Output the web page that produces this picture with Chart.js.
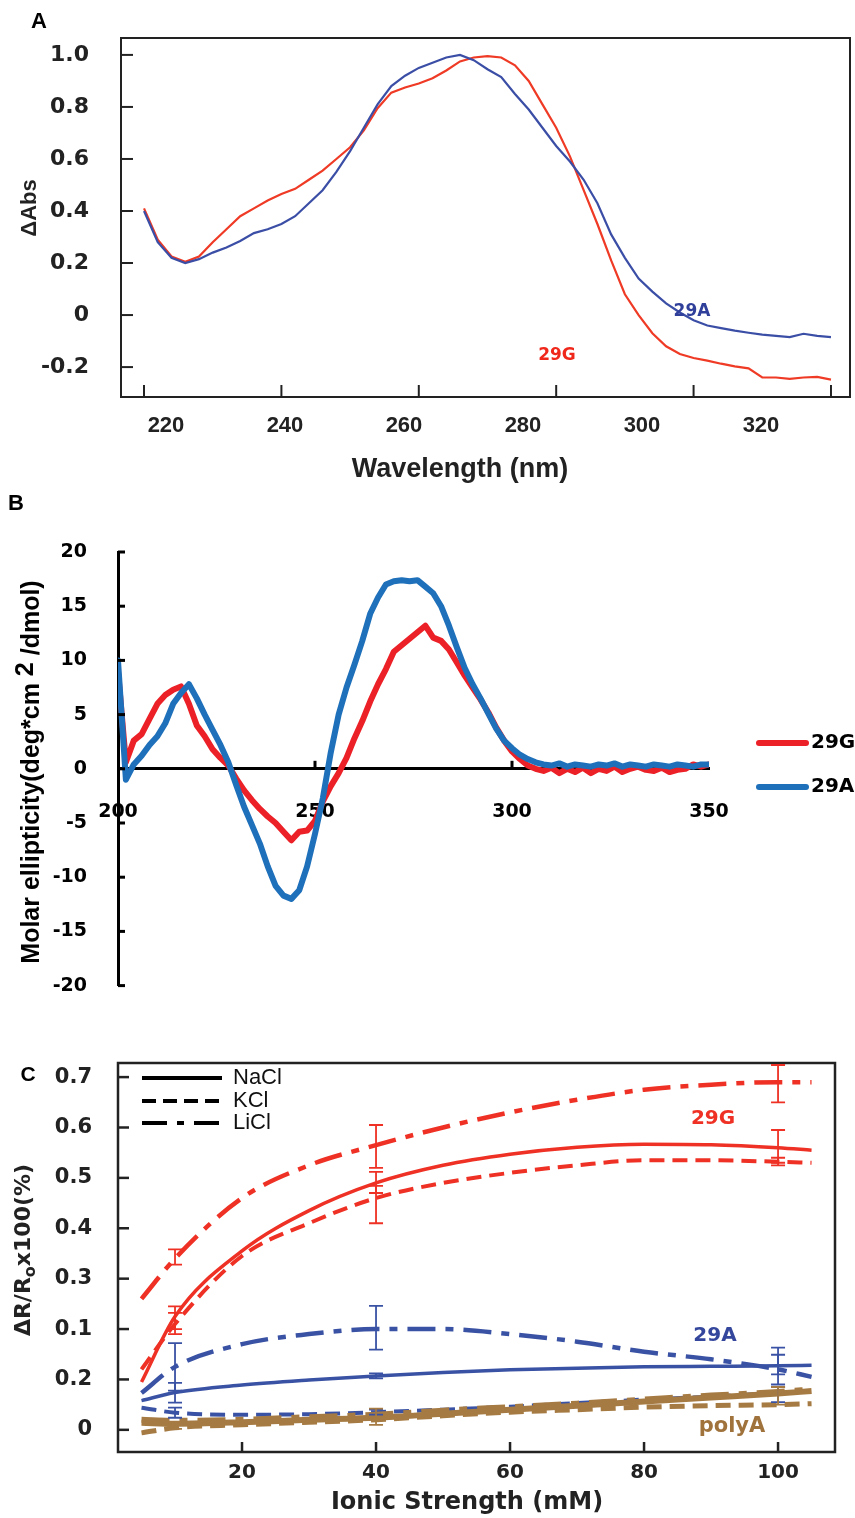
<!DOCTYPE html>
<html>
<head>
<meta charset="utf-8">
<script src="https://cdn.jsdelivr.net/npm/chart.js@4.4.1/dist/chart.umd.min.js"></script>
<style>
  html, body { margin: 0; padding: 0; background: #fff; }
  #page { position: relative; width: 855px; height: 1518px; }
  canvas { position: absolute; left: 0; }
</style>
</head>
<body>
<div id="page">
  <canvas id="chartA" width="855" height="490" style="top:0"></canvas>
  <canvas id="chartB" width="855" height="530" style="top:490px"></canvas>
  <canvas id="chartC" width="855" height="498" style="top:1020px"></canvas>
</div>
<script>
// ---------- panel A : difference absorbance ----------
const absNm = [220, 222, 224, 226, 228, 230, 232, 234, 236, 238, 240, 242, 244, 246, 248, 250, 252, 254, 256, 258,
  260, 262, 264, 266, 268, 270, 272, 274, 276, 278, 280, 282, 284, 286, 288, 290, 292, 294, 296, 298,
  300, 302, 304, 306, 308, 310, 312, 314, 316, 318, 320];
const abs29G = [0.41, 0.29, 0.225, 0.205, 0.225, 0.28, 0.33, 0.38, 0.41, 0.44, 0.465, 0.485, 0.52, 0.555, 0.60, 0.645, 0.71, 0.795, 0.855, 0.875,
  0.89, 0.91, 0.94, 0.975, 0.99, 0.995, 0.99, 0.96, 0.90, 0.81, 0.72, 0.61, 0.48, 0.35, 0.21, 0.08, 0.0, -0.07, -0.12, -0.15,
  -0.165, -0.175, -0.187, -0.197, -0.205, -0.24, -0.24, -0.245, -0.24, -0.238, -0.248];
const abs29A = [0.40, 0.28, 0.22, 0.2, 0.215, 0.24, 0.26, 0.285, 0.315, 0.33, 0.35, 0.38, 0.43, 0.48, 0.55, 0.63, 0.72, 0.81, 0.88, 0.92,
  0.95, 0.97, 0.99, 1.0, 0.98, 0.945, 0.915, 0.85, 0.79, 0.72, 0.65, 0.59, 0.52, 0.43, 0.31, 0.22, 0.14, 0.09, 0.045, 0.01,
  -0.02, -0.04, -0.05, -0.06, -0.068, -0.075, -0.08, -0.085, -0.072, -0.08, -0.085];
const absTicks = [220, 240, 260, 280, 300, 320];
const absYTicks = [-0.2, 0, 0.2, 0.4, 0.6, 0.8, 1.0];

// ---------- panel B : circular dichroism ----------
const cdNm = [200, 202, 204, 206, 208, 210, 212, 214, 216, 218, 220, 222, 224, 226, 228, 230, 232, 234, 236, 238,
  240, 242, 244, 246, 248, 250, 252, 254, 256, 258, 260, 262, 264, 266, 268, 270, 272, 274, 276, 278,
  280, 282, 284, 286, 288, 290, 292, 294, 296, 298, 300, 302, 304, 306, 308, 310, 312, 314, 316, 318,
  320, 322, 324, 326, 328, 330, 332, 334, 336, 338, 340, 342, 344, 346, 348, 350];
const cd29G = [9.0, 0.6, 2.6, 3.2, 4.6, 6.0, 6.8, 7.3, 7.6, 6.0, 4.0, 3.0, 1.8, 1.0, 0.3, -0.9, -2.0, -2.9, -3.7, -4.4,
  -5.0, -5.8, -6.6, -5.8, -5.7, -4.8, -3.0, -1.6, -0.4, 1.0, 2.8, 4.4, 6.2, 7.8, 9.2, 10.8, 11.4, 12.0, 12.6, 13.2,
  12.1, 11.8, 11.0, 9.8, 8.6, 7.5, 6.4, 5.2, 3.8, 2.6, 1.6, 0.9, 0.3, 0.0, -0.2, 0.1, -0.4, 0.0, -0.3, 0.1,
  -0.4, 0.0, -0.2, 0.2, -0.3, 0.0, 0.2, -0.1, -0.2, 0.1, -0.3, -0.1, 0.0, 0.4, 0.2, 0.4];
const cd29A = [10.0, -1.0, 0.4, 1.2, 2.2, 3.0, 4.2, 6.0, 7.0, 7.8, 6.5, 5.0, 3.6, 2.2, 0.6, -1.5, -3.5, -5.2, -6.9, -9.0,
  -10.8, -11.7, -12.0, -11.2, -9.0, -6.0, -2.7, 1.5, 5.0, 7.5, 9.6, 11.8, 14.3, 15.8, 17.0, 17.3, 17.4, 17.3, 17.4, 16.8,
  16.2, 15.0, 13.2, 11.2, 9.3, 7.8, 6.5, 5.1, 3.7, 2.6, 1.9, 1.3, 0.9, 0.6, 0.4, 0.3, 0.5, 0.2, 0.4, 0.3,
  0.2, 0.4, 0.3, 0.5, 0.2, 0.4, 0.3, 0.2, 0.4, 0.3, 0.2, 0.4, 0.3, 0.2, 0.4, 0.4];

// ---------- panel C : resistance change vs ionic strength ----------
const ionic = [5, 10, 20, 30, 40, 50, 60, 70, 80, 90, 100, 105];
const g29NaCl = [0.095, 0.225, 0.355, 0.435, 0.49, 0.525, 0.547, 0.561, 0.567, 0.566, 0.56, 0.555];
const g29KCl = [0.12, 0.21, 0.345, 0.41, 0.46, 0.49, 0.51, 0.525, 0.535, 0.535, 0.532, 0.53];
const g29LiCl = [0.26, 0.34, 0.46, 0.525, 0.565, 0.60, 0.63, 0.655, 0.675, 0.685, 0.69, 0.69];
const a29NaCl = [0.058, 0.074, 0.089, 0.099, 0.107, 0.114, 0.119, 0.122, 0.125, 0.126, 0.127, 0.128];
const a29KCl = [0.044, 0.034, 0.03, 0.031, 0.035, 0.04, 0.046, 0.053, 0.06, 0.066, 0.073, null];
const a29LiCl = [0.073, 0.125, 0.17, 0.19, 0.2, 0.2, 0.19, 0.175, 0.155, 0.14, 0.12, 0.105];
const polyNaCl = [0.014, 0.012, 0.015, 0.02, 0.024, 0.032, 0.04, 0.048, 0.056, 0.064, 0.072, 0.077];
const polyKCl = [-0.006, 0.004, 0.01, 0.015, 0.02, 0.028, 0.035, 0.04, 0.045, 0.048, 0.05, 0.052];
const polyLiCl = [0.02, 0.018, 0.02, 0.025, 0.03, 0.038, 0.045, 0.052, 0.06, 0.068, 0.075, 0.08];
const errIonic = [10, 40, 100];
const errG29NaCl = [[0.19, 0.245], [0.47, 0.512], [0.53, 0.595]];
const errG29KCl = [[0.2, 0.232], [0.41, 0.484], [0.525, 0.54]];
const errG29LiCl = [[0.328, 0.358], [0.52, 0.605], [0.65, 0.724]];
const errA29NaCl = [[0.054, 0.093], [0.102, 0.112], [0.11, 0.149]];
const errA29KCl = [[0.024, 0.044], [0.03, 0.04], [0.055, 0.085]];
const errA29LiCl = [[0.078, 0.172], [0.159, 0.246], [0.09, 0.163]];
const errPolyA = [[0.002, 0.015], [0.01, 0.042], [0.05, 0.085]];
const ionicTicks = [20, 40, 60, 80, 100];
const ratioTicks = [0, 0.1, 0.2, 0.3, 0.4, 0.5, 0.6, 0.7];
const ratioTickText = ['0', '0.2', '0.1', '0.3', '0.4', '0.5', '0.6', '0.7'];

const RED_A = '#ef3a25', BLUE_A = '#3b4ea6';
const RED_B = '#ec2027', BLUE_B = '#1f70ba';
const RED_C = '#ee3124', BLUE_C = '#3a52a4', BROWN_C = '#a67b43';
const DV = '"DejaVu Sans", sans-serif';
const LS = '"Liberation Sans", Arial, sans-serif';

const points = (xs, ys) => xs.map((x, i) => ({ x, y: ys[i] }));

// box, inward tick marks
const framePlugin = {
  id: 'frame',
  afterDatasetsDraw(chart, args, opts) {
    const { ctx, chartArea: a, scales } = chart;
    ctx.save();
    ctx.strokeStyle = opts.color || '#000';
    ctx.lineWidth = opts.width || 2;
    if (opts.box) ctx.strokeRect(a.left, a.top, a.right - a.left, a.bottom - a.top);
    (opts.ticks || []).forEach(t => {
      const s = scales[t.axis];
      ctx.lineWidth = t.width || opts.width || 2;
      t.values.forEach(v => {
        const p = s.getPixelForValue(v);
        ctx.beginPath();
        if (t.side === 'left') {
          ctx.moveTo(a.left, p); ctx.lineTo(a.left + t.len, p);
        } else {
          const y0 = t.side === 'zero' ? scales.y.getPixelForValue(0) : a.bottom;
          ctx.moveTo(p, y0); ctx.lineTo(p, y0 - t.len);
        }
        ctx.stroke();
      });
    });
    ctx.restore();
  }
};

// error bars drawn on the chart's own scales
const errorBarPlugin = {
  id: 'errorBars',
  afterDatasetsDraw(chart, args, opts) {
    const { ctx, scales: { x, y } } = chart;
    ctx.save();
    (opts.sets || []).forEach(set => {
      ctx.strokeStyle = set.color;
      ctx.lineWidth = 1.8;
      set.bars.forEach((b, i) => {
        const px = x.getPixelForValue(set.xs[i]);
        const lo = y.getPixelForValue(b[0]), hi = y.getPixelForValue(b[1]);
        ctx.beginPath();
        ctx.moveTo(px, lo); ctx.lineTo(px, hi);
        ctx.moveTo(px - 7, lo); ctx.lineTo(px + 7, lo);
        ctx.moveTo(px - 7, hi); ctx.lineTo(px + 7, hi);
        ctx.stroke();
      });
    });
    ctx.restore();
  }
};

// free text and legend keys
const textPlugin = {
  id: 'texts',
  afterDraw(chart, args, opts) {
    const ctx = chart.ctx;
    (opts.lines || []).forEach(l => {
      ctx.save();
      ctx.strokeStyle = l.color || '#000';
      ctx.lineWidth = l.width || 3;
      ctx.lineCap = l.cap || 'butt';
      ctx.setLineDash(l.dash || []);
      ctx.beginPath();
      ctx.moveTo(l.x1, l.y); ctx.lineTo(l.x2, l.y);
      ctx.stroke();
      ctx.restore();
    });
    (opts.items || []).forEach(item => {
      ctx.save();
      ctx.translate(item.x, item.y);
      if (item.rot) ctx.rotate(item.rot);
      ctx.fillStyle = item.color || '#000';
      ctx.textBaseline = 'middle';
      ctx.textAlign = 'left';
      const parts = item.parts || [{ text: item.text }];
      let total = 0;
      const widths = parts.map(p => {
        ctx.font = p.font || item.font;
        const w = ctx.measureText(p.text).width;
        total += w;
        return w;
      });
      let x = item.align === 'left' ? 0 : item.align === 'right' ? -total : -total / 2;
      parts.forEach((p, i) => {
        ctx.font = p.font || item.font;
        ctx.fillText(p.text, x, p.dy || 0);
        x += widths[i];
      });
      ctx.restore();
    });
  }
};

Chart.defaults.animation = false;
Chart.defaults.plugins.legend.display = false;
Chart.defaults.plugins.tooltip.enabled = false;
Chart.defaults.elements.point.radius = 0;

// ----- A -----
new Chart(document.getElementById('chartA'), {
  type: 'line',
  data: {
    datasets: [
      { data: points(absNm, abs29A), borderColor: BLUE_A, borderWidth: 2.2 },
      { data: points(absNm, abs29G), borderColor: RED_A, borderWidth: 2.2 }
    ]
  },
  options: {
    responsive: false,
    layout: { padding: { left: 0, right: 5, top: 38, bottom: 0 } },
    scales: {
      x: { type: 'linear', display: false, min: 216.65, max: 322.77 },
      xLab: {
        type: 'linear', position: 'bottom', min: 212.44, max: 334.96,
        afterBuildTicks: s => { s.ticks = absTicks.map(v => ({ value: v })); },
        grid: { display: false }, border: { display: false },
        ticks: { font: { family: LS, size: 22, weight: 'bold' }, color: '#222', padding: 8 },
        afterFit: s => { s.height = 93; }
      },
      y: {
        min: -0.315, max: 1.065,
        afterBuildTicks: s => { s.ticks = absYTicks.map(v => ({ value: v })); },
        grid: { display: false }, border: { display: false },
        ticks: { font: { family: DV, size: 22, weight: 'bold' }, color: '#222', padding: 24,
          callback: v => (Math.abs(v) < 1e-9 ? '0' : v.toFixed(1)) },
        afterFit: s => { s.width = 121; }
      }
    },
    plugins: {
      frame: { box: true, width: 2, color: '#222', ticks: [
        { axis: 'x', values: absTicks, len: 12, side: 'bottom' },
        { axis: 'y', values: absYTicks, len: 12, side: 'left' }
      ] },
      texts: { items: [
        { text: 'A', x: 39, y: 22, font: 'bold 22px ' + LS },
        { text: 'ΔAbs', x: 30, y: 208, rot: -Math.PI / 2, font: 'bold 22px ' + LS, color: '#222' },
        { text: 'Wavelength (nm)', x: 460, y: 470, font: 'bold 27px ' + LS, color: '#222' },
        { text: '29A', x: 692, y: 312, font: 'bold 17px ' + DV, color: '#2f3f9a' },
        { text: '29G', x: 557, y: 356, font: 'bold 17px ' + DV, color: '#f0281c' }
      ] }
    }
  },
  plugins: [framePlugin, textPlugin]
});

// ----- B -----
new Chart(document.getElementById('chartB'), {
  type: 'line',
  data: {
    datasets: [
      { data: points(cdNm, cd29A), borderColor: BLUE_B, borderWidth: 6, borderJoinStyle: 'round', borderCapStyle: 'round' },
      { data: points(cdNm, cd29G), borderColor: RED_B, borderWidth: 6, borderJoinStyle: 'round', borderCapStyle: 'round' }
    ]
  },
  options: {
    responsive: false,
    layout: { padding: { left: 0, right: 146, top: 62, bottom: 20 } },
    scales: {
      x: {
        type: 'linear', min: 200, max: 350, position: { y: 0 },
        ticks: { stepSize: 50, padding: 24, font: { family: DV, size: 19, weight: 'bold' }, color: '#000' },
        grid: { display: false }, border: { color: '#000', width: 3 }
      },
      y: {
        min: -20, max: 20,
        ticks: { stepSize: 5, padding: 23, font: { family: DV, size: 19, weight: 'bold' }, color: '#000' },
        grid: { display: false }, border: { color: '#000', width: 3 },
        afterFit: s => { s.width = 118; }
      }
    },
    plugins: {
      frame: { box: false, width: 3, color: '#000', ticks: [
        { axis: 'x', values: [250, 300], len: 8, side: 'zero' },
        { axis: 'y', values: [-20, -15, -10, -5, 0, 5, 10, 15, 20], len: 7, side: 'left' }
      ] },
      texts: {
        lines: [
          { x1: 759, x2: 806, y: 253, color: RED_B, width: 6, cap: 'round' },
          { x1: 759, x2: 806, y: 297, color: BLUE_B, width: 6, cap: 'round' }
        ],
        items: [
          { text: 'B', x: 16, y: 14, font: 'bold 22px ' + LS },
          { x: 32, y: 282, rot: -Math.PI / 2, font: 'bold 25px ' + LS, parts: [
            { text: 'Molar ellipticity(deg*cm ' }, { text: '2', dy: -6 }, { text: ' /dmol)' }
          ] },
          { text: '29G', x: 811, y: 253, align: 'left', font: 'bold 20px ' + DV },
          { text: '29A', x: 811, y: 297, align: 'left', font: 'bold 20px ' + DV }
        ]
      }
    }
  },
  plugins: [framePlugin, textPlugin]
});

// ----- C -----
const solid = [], dashed = [15, 8], dashDot = [28, 10, 8, 10];
const curve = (ys, color, width, dash) => ({
  data: points(ionic, ys), borderColor: color, borderWidth: width, borderDash: dash,
  cubicInterpolationMode: 'monotone', spanGaps: false
});
new Chart(document.getElementById('chartC'), {
  type: 'line',
  data: {
    datasets: [
      curve(polyNaCl, BROWN_C, 6, solid),
      curve(polyLiCl, BROWN_C, 6, dashDot),
      curve(polyKCl, BROWN_C, 5, dashed),
      curve(a29NaCl, BLUE_C, 3.5, solid),
      curve(a29KCl, BLUE_C, 4, dashed),
      curve(a29LiCl, BLUE_C, 4.5, dashDot),
      curve(g29NaCl, RED_C, 3.5, solid),
      curve(g29KCl, RED_C, 4, dashed),
      curve(g29LiCl, RED_C, 4.5, dashDot)
    ]
  },
  options: {
    responsive: false,
    layout: { padding: { left: 0, right: 20, top: 43, bottom: 0 } },
    scales: {
      x: {
        type: 'linear', min: 1.49, max: 108.5,
        afterBuildTicks: s => { s.ticks = ionicTicks.map(v => ({ value: v })); },
        grid: { display: false }, border: { display: false },
        ticks: { font: { family: DV, size: 20, weight: 'bold' }, color: '#222', padding: 1 },
        afterFit: s => { s.height = 66; }
      },
      y: {
        min: -0.044, max: 0.728,
        afterBuildTicks: s => { s.ticks = ratioTicks.map(v => ({ value: v })); },
        grid: { display: false }, border: { display: false },
        ticks: { font: { family: DV, size: 21, weight: 'bold' }, color: '#222', padding: 18,
          callback: (v, i) => ratioTickText[i] },
        afterFit: s => { s.width = 118; }
      }
    },
    plugins: {
      errorBars: { sets: [
        { xs: errIonic, bars: errG29NaCl, color: RED_C },
        { xs: errIonic, bars: errG29KCl, color: RED_C },
        { xs: errIonic, bars: errG29LiCl, color: RED_C },
        { xs: errIonic, bars: errA29NaCl, color: BLUE_C },
        { xs: errIonic, bars: errA29KCl, color: BLUE_C },
        { xs: errIonic, bars: errA29LiCl, color: BLUE_C },
        { xs: errIonic, bars: errPolyA, color: BROWN_C }
      ] },
      frame: { box: true, width: 2.5, color: '#222', ticks: [
        { axis: 'x', values: ionicTicks, len: 10, side: 'bottom' },
        { axis: 'y', values: ratioTicks, len: 11, side: 'left' }
      ] },
      texts: {
        lines: [
          { x1: 142, x2: 222, y: 58, width: 4 },
          { x1: 142, x2: 222, y: 81, width: 4, dash: [14, 7] },
          { x1: 142, x2: 222, y: 103, width: 4, dash: [25, 10, 7, 10] }
        ],
        items: [
          { text: 'C', x: 28, y: 55, font: 'bold 21px ' + LS },
          { text: 'NaCl', x: 233, y: 58, align: 'left', font: '22px ' + LS, color: '#111' },
          { text: 'KCl', x: 233, y: 81, align: 'left', font: '22px ' + LS, color: '#111' },
          { text: 'LiCl', x: 233, y: 103, align: 'left', font: '22px ' + LS, color: '#111' },
          { x: 24, y: 230, rot: -Math.PI / 2, font: 'bold 22px ' + DV, color: '#222', parts: [
            { text: 'ΔR/R' }, { text: 'o', dy: 7, font: 'bold 16px ' + DV }, { text: 'x100(%)' }
          ] },
          { text: 'Ionic Strength (mM)', x: 467, y: 483, font: 'bold 24px ' + DV, color: '#222' },
          { text: '29G', x: 713, y: 99, font: 'bold 20px ' + DV, color: RED_C },
          { text: '29A', x: 715, y: 316, font: 'bold 20px ' + DV, color: '#34479c' },
          { text: 'polyA', x: 732, y: 407, font: 'bold 21px ' + DV, color: '#a0733d' }
        ]
      }
    }
  },
  plugins: [framePlugin, errorBarPlugin, textPlugin]
});
</script>
</body>
</html>
